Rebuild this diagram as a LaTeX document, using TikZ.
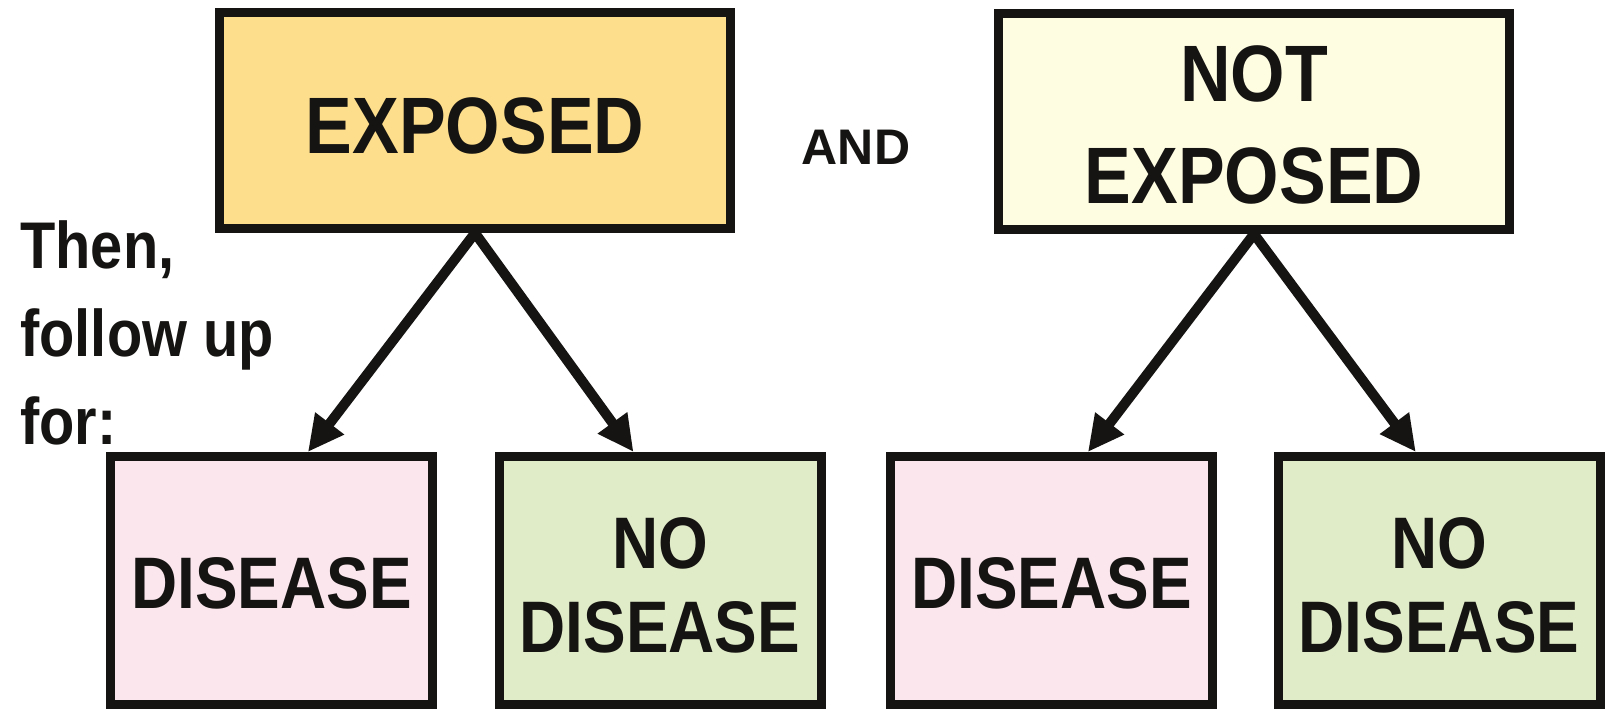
\documentclass[tikz,border=0pt]{standalone}
\usepackage{fontspec}
\setmainfont{Liberation Sans}
\newfontfamily\cond[FakeStretch=0.875]{Liberation Sans}
\usetikzlibrary{arrows.meta,calc}
\definecolor{expfill}{RGB}{253,222,140}
\definecolor{notfill}{RGB}{254,253,226}
\definecolor{disfill}{RGB}{251,230,238}
\definecolor{nofill}{RGB}{224,235,200}
\definecolor{ink}{RGB}{22,20,18}
\newcommand{\lowered}[2]{\raisebox{#1}[\height][\depth]{#2}}
\newcommand{\twoline}[3]{\raisebox{#1}[\height][\depth]{\begin{tabular}{@{}c@{}}#2\\#3\end{tabular}}}
\begin{document}
\begin{tikzpicture}[x=0.5pt,y=-0.5pt,
  box/.style={draw=ink, line width=4.5pt, rectangle, inner sep=0pt, align=center, text=ink},
  topbox/.style={box, minimum width=255.5pt, minimum height=108pt, font=\cond\fontsize{40}{51}\selectfont\bfseries},
  lowbox/.style={box, minimum width=161pt, minimum height=124pt, font=\cond\fontsize{36.5}{42}\selectfont\bfseries},
  link/.style={draw=ink, line width=5pt, -{Triangle[length=18pt,width=17pt]}},
  plain/.style={text=ink, inner sep=0pt}]
\useasboundingbox[fill=white] (0,0) rectangle (1611,709);
\node[topbox, fill=expfill] (ex) at (475,120.5) {\lowered{-2.5pt}{EXPOSED}};
\node[topbox, fill=notfill] (nex) at (1254,121.5) {\twoline{-5.5pt}{NOT}{EXPOSED}};
\node[plain, font=\fontsize{25}{30}\selectfont\bfseries] (and) at (856,147) {AND};
\node[plain, anchor=north west, align=left, font=\cond\fontsize{33}{44}\selectfont\bfseries] (then) at (20,220) {Then,\\follow up\\for:};
\node[lowbox, fill=disfill] (d1) at (271.5,580.5) {\lowered{-1.5pt}{DISEASE}};
\node[lowbox, fill=nofill] (n1) at (660,580.5) {\twoline{-6.5pt}{NO}{DISEASE}};
\node[lowbox, fill=disfill] (d2) at (1051.5,580.5) {\lowered{-1.5pt}{DISEASE}};
\node[lowbox, fill=nofill] (n2) at (1439,580.5) {\twoline{-6.5pt}{NO}{DISEASE}};
\draw[link] (ex.south) -- ($(d1.north west)!0.61!(d1.north east)$);
\draw[link] (ex.south) -- ($(n1.north west)!0.42!(n1.north east)$);
\draw[link] (nex.south) -- ($(d2.north west)!0.61!(d2.north east)$);
\draw[link] (nex.south) -- ($(n2.north west)!0.43!(n2.north east)$);
\end{tikzpicture}
\end{document}
